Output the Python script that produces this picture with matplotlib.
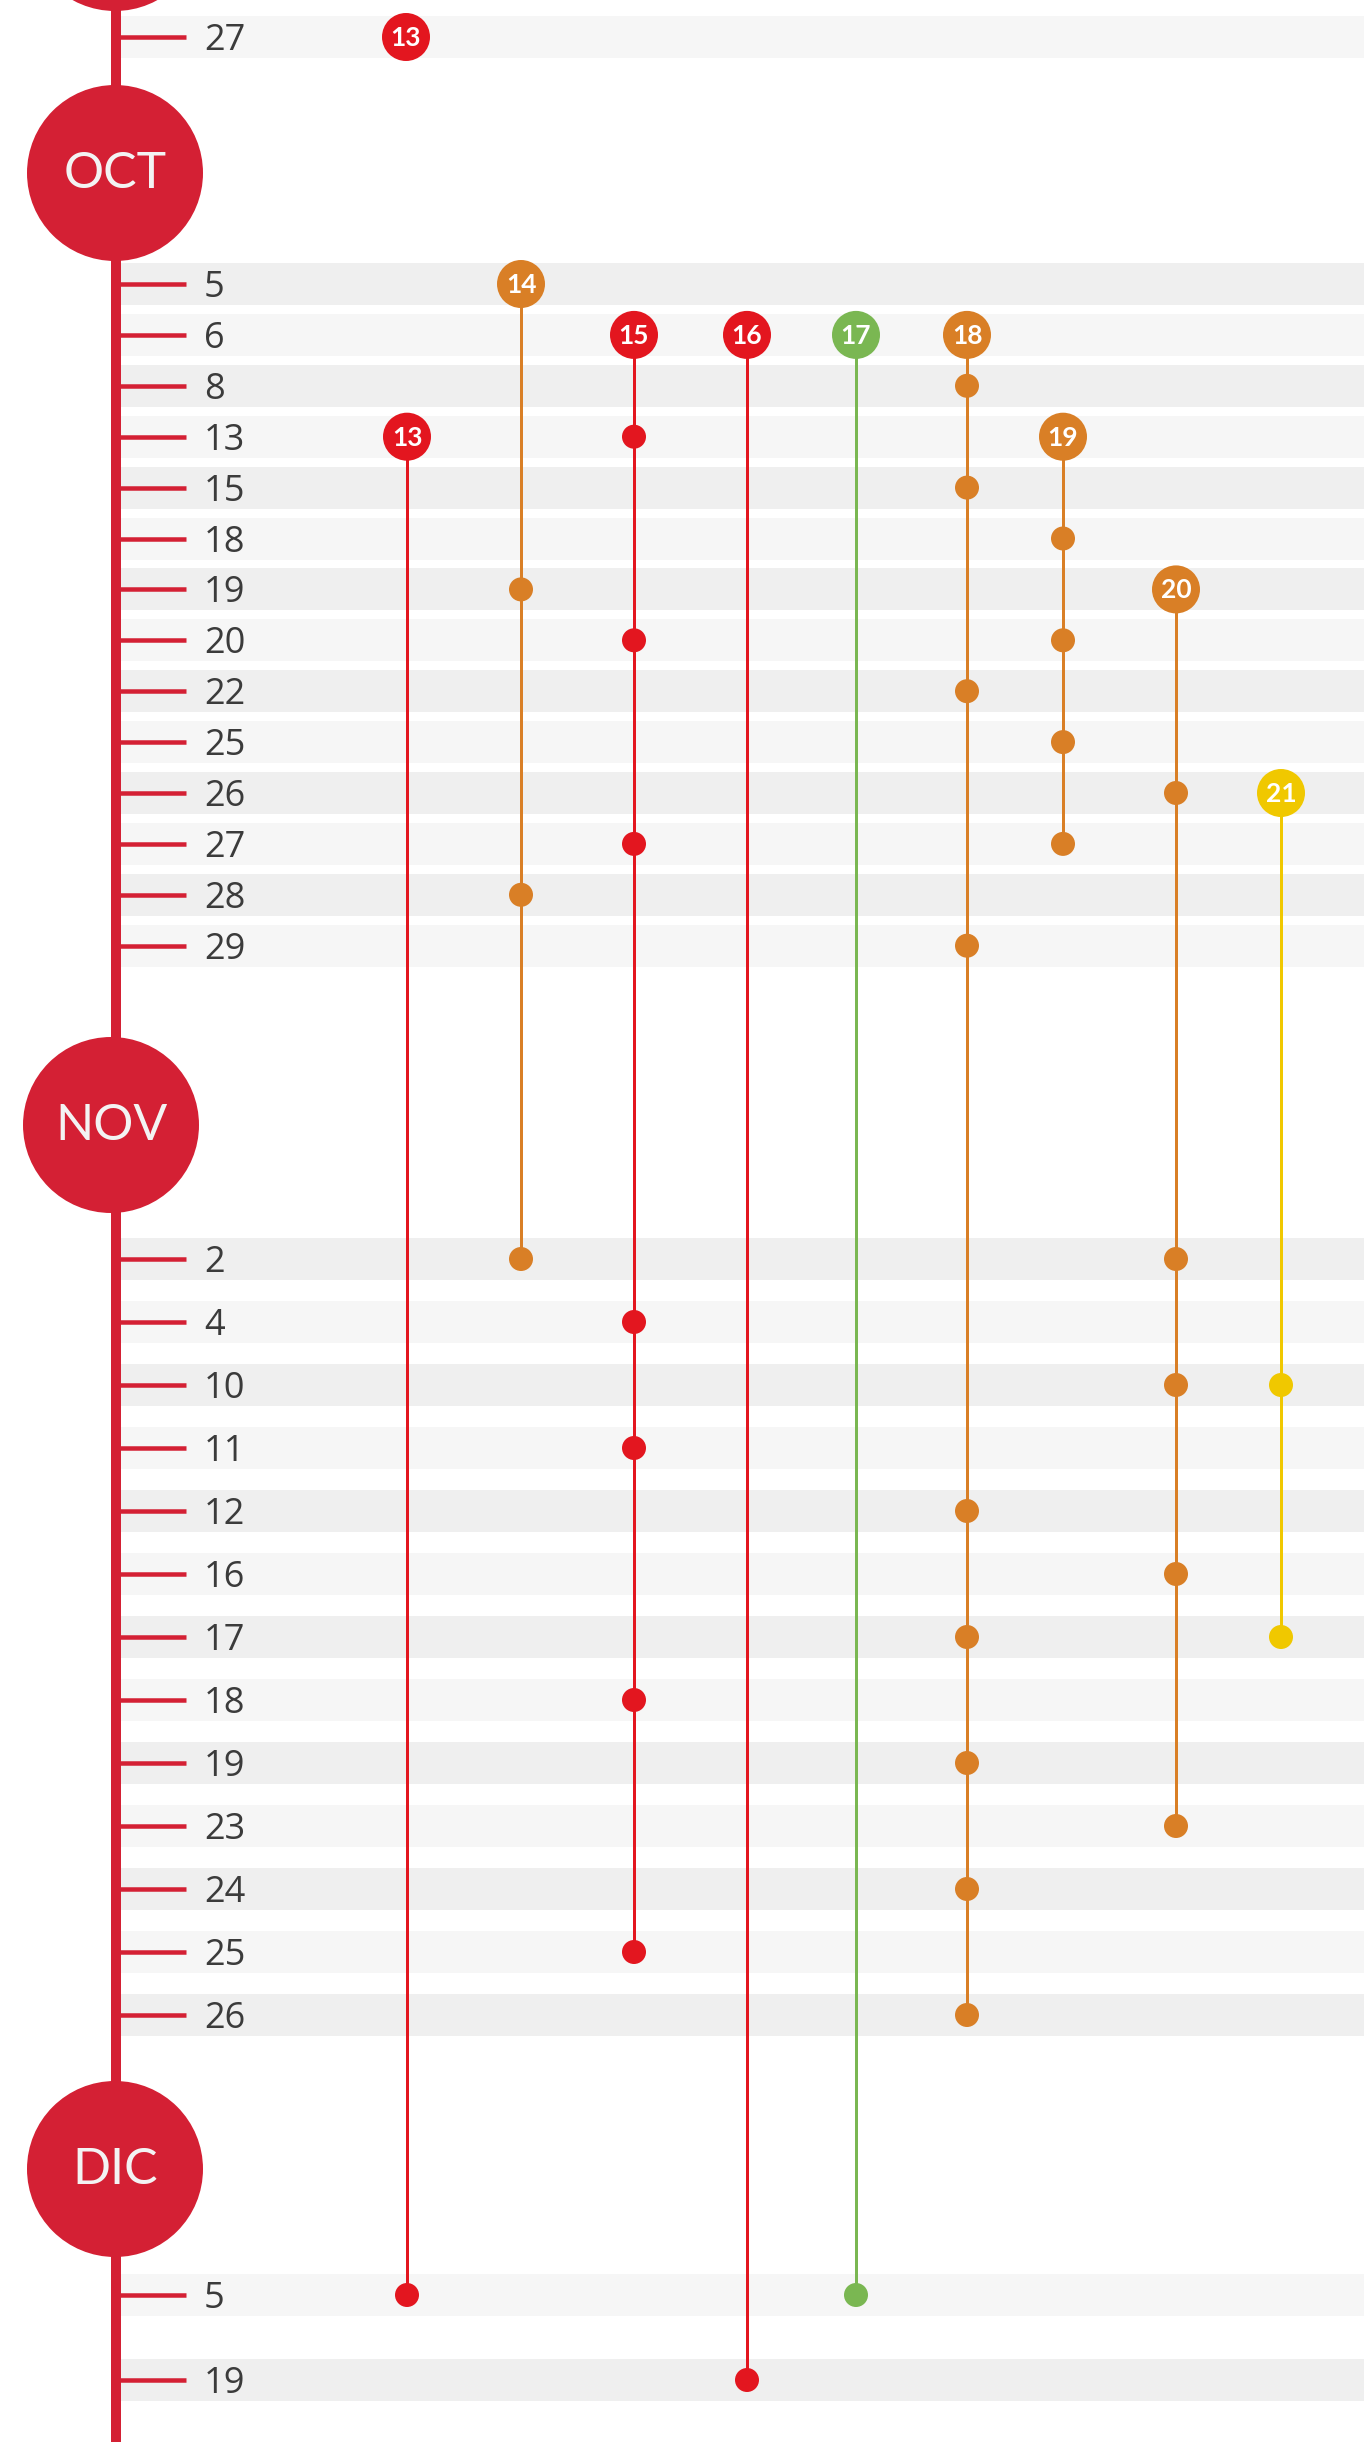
import matplotlib
matplotlib.use('Agg')
import matplotlib.pyplot as plt
from matplotlib.patches import Circle, Rectangle

# ---- data ----
months = ['SEP', 'OCT', 'NOV', 'DIC']
days_sep = [27]
days_oct = [5, 6, 8, 13, 15, 18, 19, 20, 22, 25, 26, 27, 28, 29]
days_nov = [2, 4, 10, 11, 12, 16, 17, 18, 19, 23, 24, 25, 26]
days_dic = [5, 19]
days = {'SEP': days_sep, 'OCT': days_oct, 'NOV': days_nov, 'DIC': days_dic}

event_ids = [13, 14, 15, 16, 17, 18, 19, 20, 21]
event_kind = ['red', 'orange', 'red', 'red', 'green', 'orange', 'orange', 'orange', 'yellow']
ev13 = [('OCT', 13), ('DIC', 5)]
ev14 = [('OCT', 5), ('OCT', 19), ('OCT', 28), ('NOV', 2)]
ev15 = [('OCT', 6), ('OCT', 13), ('OCT', 20), ('OCT', 27), ('NOV', 4), ('NOV', 11),
        ('NOV', 18), ('NOV', 25)]
ev16 = [('OCT', 6), ('DIC', 19)]
ev17 = [('OCT', 6), ('DIC', 5)]
ev18 = [('OCT', 6), ('OCT', 8), ('OCT', 15), ('OCT', 22), ('OCT', 29), ('NOV', 12),
        ('NOV', 17), ('NOV', 19), ('NOV', 24), ('NOV', 26)]
ev19 = [('OCT', 13), ('OCT', 18), ('OCT', 20), ('OCT', 25), ('OCT', 27)]
ev20 = [('OCT', 19), ('OCT', 26), ('NOV', 2), ('NOV', 10), ('NOV', 16), ('NOV', 23)]
ev21 = [('OCT', 26), ('NOV', 10), ('NOV', 17)]
event_dates = [ev13, ev14, ev15, ev16, ev17, ev18, ev19, ev20, ev21]
# lone marker at the top (tail of the previous page)
solo_marks = [(13, 'red', 'SEP', 27)]

# ---- layout / style ----
W, H = 1364, 2442
month_y = {'SEP': -77, 'OCT': 173, 'NOV': 1125, 'DIC': 2169}
month_x = {'SEP': 115, 'OCT': 115, 'NOV': 111, 'DIC': 115}
row_first = {'SEP': 37, 'OCT': 284, 'NOV': 1259, 'DIC': 2295}
row_step = {'SEP': 51, 'OCT': 50.9, 'NOV': 63.0, 'DIC': 85}
col_x = {13: 407, 14: 521, 15: 634, 16: 747, 17: 856, 18: 967, 19: 1063, 20: 1176, 21: 1281}
colors = {'red': '#e3161f', 'orange': '#d97f26', 'green': '#7ab752', 'yellow': '#f0c800'}
spine_col = '#d42034'
spine_x = 116
band_cols = ['#f6f6f6', '#efefef']
px = 72.0 / 100  # points per pixel at dpi 100


def row_y(month, day):
    return row_first[month] + row_step[month] * days[month].index(day)


fig = plt.figure(figsize=(W / 100, H / 100), dpi=100)
ax = fig.add_axes([0, 0, 1, 1])
ax.set_xlim(0, W)
ax.set_ylim(H, 0)
ax.axis('off')

# bands, ticks and day labels
k = 0
for m in months:
    for d in days[m]:
        y = row_y(m, d)
        ax.add_patch(Rectangle((121, y - 21), W - 121, 42, color=band_cols[k % 2], lw=0, zorder=0))
        ax.plot([118, 186], [y, y], color=spine_col, lw=4.5 * px, solid_capstyle='butt', zorder=2)
        ax.text(204, y + 13, str(d), fontsize=26, family='Open Sans', color='#3b3b3b',
                ha='left', va='baseline', zorder=5)
        k += 1

# spine and month circles (the SEP circle is only partly on the page, no label)
ax.plot([spine_x, spine_x], [-200, H + 10], color=spine_col, lw=10 * px, solid_capstyle='butt', zorder=2)
for m in months:
    ax.add_patch(Circle((month_x[m], month_y[m]), 88, color=spine_col, lw=0, zorder=3))
    if month_y[m] > 0:
        ax.text(month_x[m], month_y[m] + 1, m, fontsize=36, family='Lato', color='#f3f3f3',
                ha='center', va='center', zorder=5)

# events
for eid, kind, dates in zip(event_ids, event_kind, event_dates):
    c = colors[kind]
    x = col_x[eid]
    ys = [row_y(m, d) for m, d in dates]
    ax.plot([x, x], [ys[0], ys[-1]], color=c, lw=3 * px, zorder=3)
    for y in ys[1:]:
        ax.add_patch(Circle((x, y), 12, color=c, lw=0, zorder=4))
    ax.add_patch(Circle((x, ys[0]), 24, color=c, lw=0, zorder=4))
    ax.text(x, ys[0] + 1, str(eid), fontsize=19, family='Lato', weight='bold', color='white',
            ha='center', va='center', zorder=5)

for eid, kind, m, d in solo_marks:
    x = col_x[eid] - 1
    y = row_y(m, d)
    ax.add_patch(Circle((x, y), 24, color=colors[kind], lw=0, zorder=4))
    ax.text(x, y + 1, str(eid), fontsize=19, family='Lato', weight='bold', color='white',
            ha='center', va='center', zorder=5)

fig.savefig('out.png', dpi=100)
